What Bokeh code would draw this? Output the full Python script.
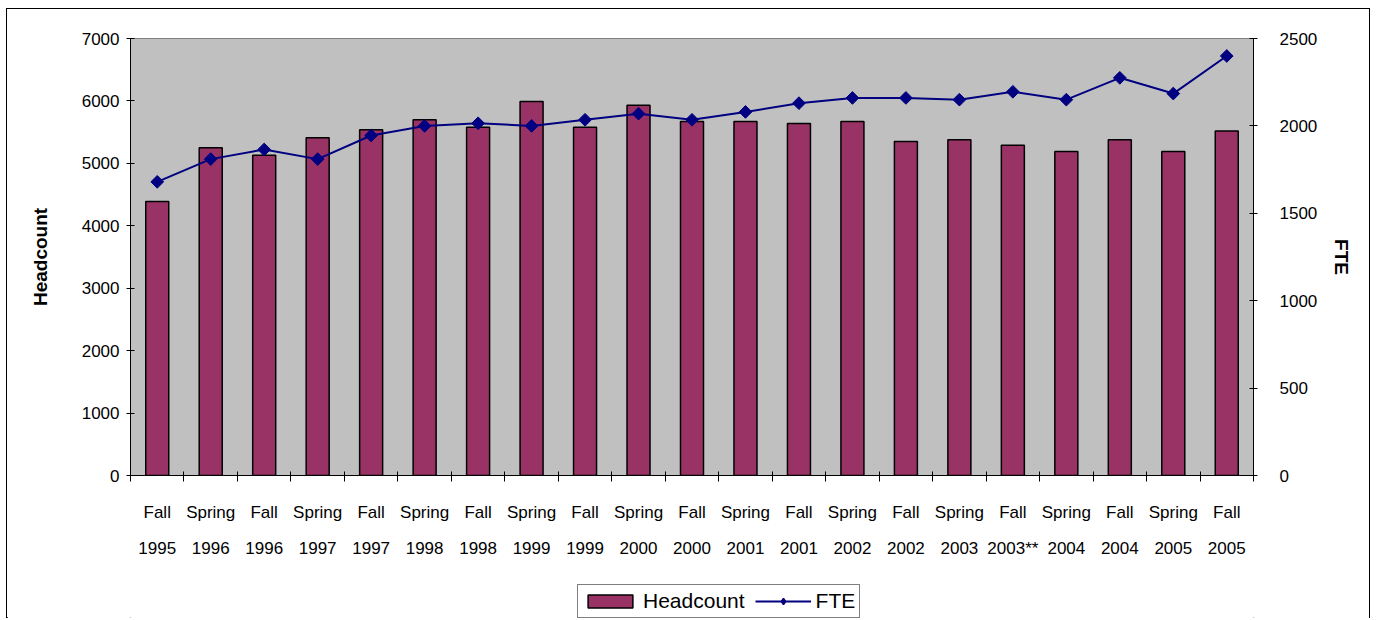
import math
from bokeh.plotting import figure
from bokeh.layouts import column
from bokeh.models import (Range1d, LinearAxis, FixedTicker, ColumnDataSource,
                          Legend, LegendItem)
from bokeh.embed import file_html
from bokeh.resources import INLINE

terms = ["Fall", "Spring", "Fall", "Spring", "Fall", "Spring", "Fall", "Spring", "Fall", "Spring",
         "Fall", "Spring", "Fall", "Spring", "Fall", "Spring", "Fall", "Spring", "Fall", "Spring", "Fall"]
years = ["1995", "1996", "1996", "1997", "1997", "1998", "1998", "1999", "1999", "2000",
         "2000", "2001", "2001", "2002", "2002", "2003", "2003**", "2004", "2004", "2005", "2005"]
headcount = [4390, 5250, 5130, 5410, 5540, 5700, 5580, 5990, 5580, 5930,
             5670, 5670, 5640, 5670, 5350, 5380, 5290, 5190, 5380, 5190, 5520]
fte = [1680, 1810, 1865, 1810, 1945, 2000, 2015, 2000, 2035, 2070,
       2035, 2080, 2130, 2160, 2160, 2150, 2195, 2150, 2275, 2185, 2400]
left_ticks = [0, 1000, 2000, 3000, 4000, 5000, 6000, 7000]
right_ticks = [0, 500, 1000, 1500, 2000, 2500]

n = len(terms)
xs = list(range(n))
src = ColumnDataSource(dict(x=xs, term=terms, year=years, hc=headcount, fte=fte))

FONT = "Liberation Sans"
W = 1364
H1 = 572
H2 = 38

BAR_FILL = "#993366"
NAVY = "#000080"

p = figure(width=W, height=H1, x_range=Range1d(-0.5, n - 0.5), y_range=Range1d(0, 7000),
           output_backend="svg", toolbar_location=None,
           min_border_left=123, min_border_right=116, min_border_top=29,
           min_border_bottom=H1 - 466,
           background_fill_color="#C0C0C0", border_fill_color="white",
           outline_line_color="#808080", outline_line_width=1)
p.xgrid.visible = False
p.ygrid.visible = False
p.extra_y_ranges = {"fte": Range1d(0, 2500)}

# left axis
ya = p.yaxis[0]
ya.ticker = FixedTicker(ticks=left_ticks)
ya.axis_label = "Headcount"
ya.axis_label_text_font = FONT
ya.axis_label_text_font_style = "bold"
ya.axis_label_text_font_size = "19px"
ya.axis_label_text_color = "black"
ya.axis_label_standoff = 28
ya.major_label_text_font = FONT
ya.major_label_text_font_size = "17px"
ya.major_label_text_color = "black"
ya.major_label_standoff = 7
ya.major_tick_in = 4
ya.major_tick_out = 4
ya.minor_tick_in = 0
ya.minor_tick_out = 0
ya.axis_line_color = "black"

# right axis
ra = LinearAxis(y_range_name="fte", ticker=FixedTicker(ticks=right_ticks))
ra.axis_label = "FTE"
ra.axis_label_text_font = FONT
ra.axis_label_text_font_style = "bold"
ra.axis_label_text_font_size = "19px"
ra.axis_label_text_color = "black"
ra.axis_label_standoff = 11
ra.major_label_text_font = FONT
ra.major_label_text_font_size = "17px"
ra.major_label_text_color = "black"
ra.major_label_standoff = 22
ra.major_tick_in = 4
ra.major_tick_out = 4
ra.minor_tick_in = 0
ra.minor_tick_out = 0
ra.axis_line_color = "black"
p.add_layout(ra, "right")

# bottom axis: term labels at category centres, tick marks between categories
xa = p.xaxis[0]
xa.ticker = FixedTicker(ticks=xs, minor_ticks=[i - 0.5 for i in range(n + 1)])
xa.major_label_overrides = {i: t for i, t in enumerate(terms)}
xa.major_label_text_font = FONT
xa.major_label_text_font_size = "17px"
xa.major_label_text_color = "black"
xa.major_label_standoff = 21
xa.major_tick_in = 0
xa.major_tick_out = 0
xa.minor_tick_in = 4
xa.minor_tick_out = 6
xa.minor_tick_line_color = "black"
xa.axis_line_color = "black"

# second bottom axis: years
xa2 = LinearAxis(ticker=FixedTicker(ticks=xs))
xa2.major_label_overrides = {i: y for i, y in enumerate(years)}
xa2.major_label_text_font = FONT
xa2.major_label_text_font_size = "17px"
xa2.major_label_text_color = "black"
xa2.major_label_standoff = 14
xa2.major_tick_in = 0
xa2.major_tick_out = 0
xa2.minor_tick_in = 0
xa2.minor_tick_out = 0
xa2.axis_line_color = None
p.add_layout(xa2, "below")

p.vbar(x="x", top="hc", width=0.43, source=src, fill_color=BAR_FILL,
       line_color="black", line_width=1.5)
p.line(x="x", y="fte", source=src, y_range_name="fte", line_color=NAVY, line_width=2)
p.scatter(x="x", y="fte", source=src, y_range_name="fte", marker="square",
          angle=math.pi / 4, size=9, fill_color=NAVY, line_color=NAVY)

# legend strip below the chart; its proxy renderers hold a single NaN row, so only the legend shows
q = figure(width=W, height=H2, x_range=Range1d(0, 1), y_range=Range1d(0, 1),
           output_backend="svg", toolbar_location=None,
           x_axis_location=None, y_axis_location=None,
           min_border_left=0, min_border_right=0, min_border_top=0, min_border_bottom=0,
           background_fill_color="white", border_fill_color="white", outline_line_color=None)
q.xgrid.visible = False
q.ygrid.visible = False
nan = float("nan")
proxy = ColumnDataSource(dict(x=[nan], hc=[nan], fte=[nan]))
lb = q.vbar(x="x", top="hc", width=0.43, source=proxy, fill_color=BAR_FILL,
            line_color="black", line_width=1.5)
ll = q.line(x="x", y="fte", source=proxy, line_color=NAVY, line_width=2)
lm = q.scatter(x="x", y="fte", source=proxy, marker="diamond", size=9,
               fill_color=NAVY, line_color=NAVY, line_width=1.5)
legend = Legend(items=[LegendItem(label="Headcount", renderers=[lb]),
                       LegendItem(label="FTE", renderers=[ll, lm])],
                location=(447, 1), orientation="horizontal",
                label_text_font=FONT, label_text_font_size="21px", label_text_color="black",
                glyph_width=56, glyph_height=16, label_standoff=5, spacing=10,
                padding=4, margin=0, border_line_color="black", border_line_width=1,
                background_fill_color="white", background_fill_alpha=1)
q.add_layout(legend)

lay = column(p, q, width=W, height=H1 + H2, spacing=0)
lay.styles = {"border": "1px solid black", "margin-left": "6px", "margin-top": "8px"}

open("out.html", "w").write(file_html(lay, INLINE))
